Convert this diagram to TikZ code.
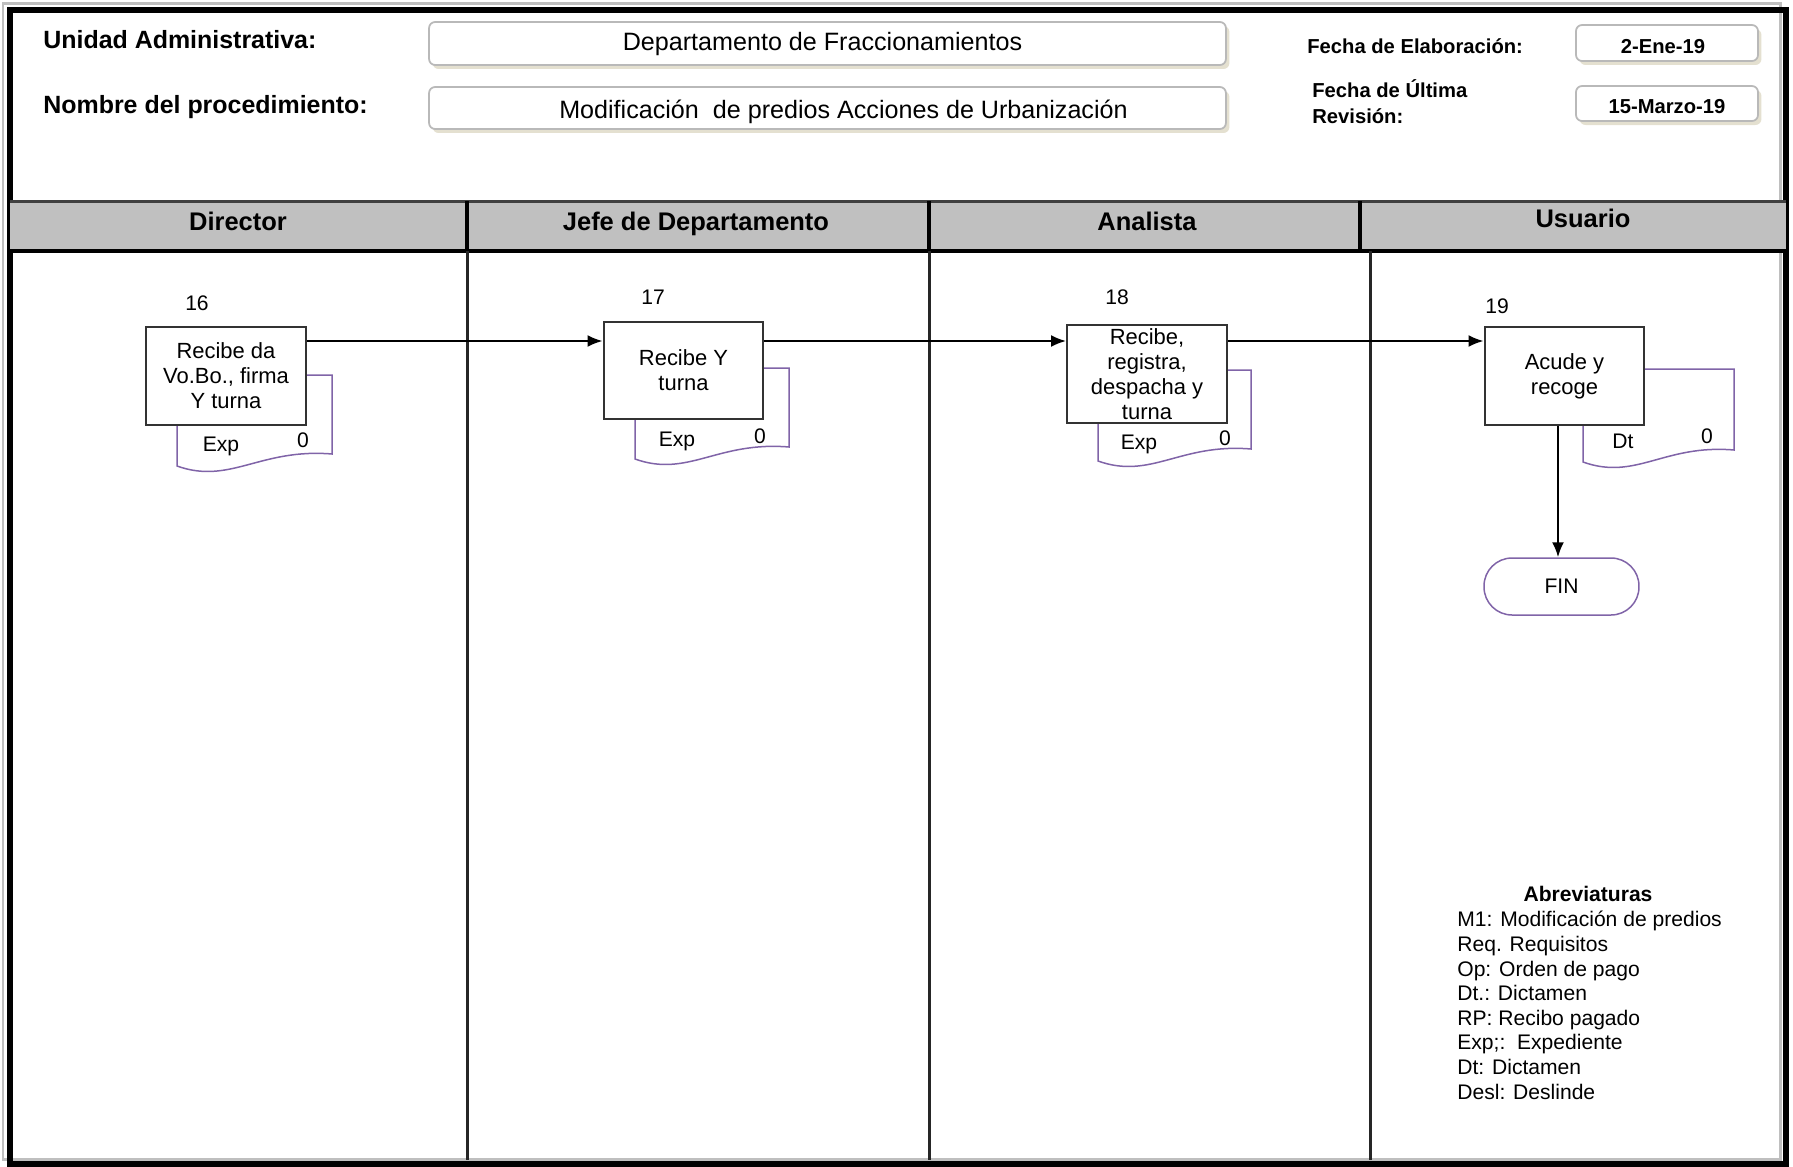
\documentclass[tikz,border=0pt]{standalone}
\usepackage{fontspec}
\setmainfont{Liberation Sans}
\usetikzlibrary{arrows.meta,shadows}
\definecolor{lanegray}{RGB}{192,192,192}
\definecolor{docpurple}{RGB}{128,100,168}
\definecolor{fieldline}{RGB}{185,185,185}
\definecolor{fieldshadow}{RGB}{228,224,208}

\begin{document}
\begin{tikzpicture}[x=0.02cm, y=-0.02cm, every node/.style={inner sep=0pt},
    headtext/.style={font=\bfseries\fontsize{14.2}{17}\selectfont, anchor=west},
    datetext/.style={font=\bfseries\fontsize{11.5}{14.8}\selectfont, anchor=west, align=left},
    field/.style={draw=fieldline, line width=0.035cm, fill=white, rounded corners=0.12cm,
        text depth=0.22em,
        drop shadow={shadow xshift=0.07cm, shadow yshift=-0.08cm, fill=fieldshadow, opacity=1}},
    datefield/.style={field, minimum width=3.64cm, text height=11.7pt, text depth=0pt,
        font=\bfseries\fontsize{11.5}{14}\selectfont},
    lane/.style={font=\bfseries\fontsize{14.5}{17}\selectfont, anchor=base},
    task/.style={draw=black!80, line width=0.04cm, fill=white, minimum width=3.2cm,
        minimum height=1.96cm, align=center, font=\fontsize{12.5}{14.2}\selectfont},
    num/.style={font=\fontsize{12}{14}\selectfont},
    doc/.style={draw=docpurple, line width=0.03cm, fill=white},
    doctext/.style={font=\fontsize{12}{14}\selectfont},
    flow/.style={line width=0.04cm, -{Latex[length=0.3cm,width=0.24cm]}}]
    \useasboundingbox (0,0) rectangle (1793,1167);

    % outer frame
    \draw[gray!50, line width=0.06cm] (3,3) rectangle (1780,1159);
    \draw[line width=0.13cm] (10,10) rectangle (1786,1164);

    % heading of the form
    \node (unidad) [headtext] at (43,40) {Unidad Administrativa:};
    \node (nombre) [headtext] at (43,107) {Nombre del procedimiento:};
    \node (unidadf) [field, minimum width=15.94cm, minimum height=0.86cm, text height=10.5pt, font=\fontsize{14.3}{17}\selectfont] at (827.5,43.5) {Departamento de Fraccionamientos\hspace*{0.2cm}};
    \node (nombref) [field, minimum width=15.94cm, minimum height=0.84cm, text height=14pt, font=\fontsize{14.3}{17}\selectfont] at (827.5,108) {\hspace*{0.64cm}Modificación\ \ de predios Acciones de Urbanización};
    \node (felab) [datetext] at (1307,46) {Fecha de Elaboración:};
    \node (frev) [datetext] at (1312,102) {Fecha de Última\\Revisión:};
    \node (felabf) [datefield, minimum height=0.72cm] at (1667,43) {\hspace*{-0.16cm}2-Ene-19};
    \node (frevf) [datefield, minimum height=0.70cm] at (1667,103.5) {15-Marzo-19};

    % lanes
    \fill[lanegray] (10,201) rectangle (1786,251);
    \draw[black!75, line width=0.06cm] (10,201) -- (1786,201);
    \draw[line width=0.07cm] (10,251) -- (1786,251);
    \draw[line width=0.07cm] (467,201) -- (467,251) (929,201) -- (929,251) (1360,201) -- (1360,251);
    \draw[black!85, line width=0.06cm] (467,251) -- (467,1160) (929,251) -- (929,1160) (1370,251) -- (1370,1160);
    \node (ldir) [lane] at (238,230) {Director};
    \node (ljefe) [lane] at (696,230) {Jefe de Departamento};
    \node (lana) [lane] at (1147,230) {Analista};
    \node (lusu) [lane] at (1583,227) {Usuario};

    % documents
    \draw[doc] (177,375) -- (332,375) -- (332,454) .. controls (260,448) and (230,485) .. (177,466) -- cycle;
    \draw[doc] (635,368) -- (789,368) -- (789,447) .. controls (717,441) and (688,478) .. (635,459) -- cycle;
    \draw[doc] (1098,370) -- (1251,370) -- (1251,449) .. controls (1180,443) and (1151,480) .. (1098,461) -- cycle;
    \draw[doc] (1583,369) -- (1734,369) -- (1734,450) .. controls (1664,444) and (1636,481) .. (1583,462) -- cycle;
    \node (e16) [doctext] at (221,446) {Exp};
    \node (z16) [doctext] at (303,440) {0};
    \node (e17) [doctext] at (677,441) {Exp};
    \node (z17) [doctext] at (760,436) {0};
    \node (e18) [doctext] at (1139,444) {Exp};
    \node (z18) [doctext] at (1225,438) {0};
    \node (e19) [doctext] at (1623,441) {Dt};
    \node (z19) [doctext] at (1707,436) {0};

    % steps
    \node (b16) [task] at (226,376) {Recibe da\\Vo.Bo., firma\\Y turna};
    \node (b17) [task] at (683.5,370.5) {Recibe Y\\turna};
    \node (b18) [task] at (1147,374) {Recibe,\\registra,\\despacha y\\turna};
    \node (b19) [task] at (1564.5,376) {Acude y\\recoge};
    \node (n16) [num] at (197,303) {16};
    \node (n17) [num] at (653,297) {17};
    \node (n18) [num] at (1117,297) {18};
    \node (n19) [num] at (1497,306) {19};
    \node (fin) [draw=docpurple, line width=0.03cm, rounded corners=0.56cm, minimum width=3.1cm, minimum height=1.14cm, font=\fontsize{12}{14}\selectfont] at (1561.5,586.5) {FIN};

    \coordinate (lvl) at (0,341);
    \coordinate (drop) at (1558,0);
    \draw[flow] (b16.east |- lvl) -- (b17.west |- lvl);
    \draw[flow] (b17.east |- lvl) -- (b18.west |- lvl);
    \draw[flow] (b18.east |- lvl) -- (b19.west |- lvl);
    \draw[flow] (b19.south -| drop) -- (fin.north -| drop);

    % abbreviations
    \node (abrev) [font=\bfseries\fontsize{12}{14}\selectfont] at (1588,894) {Abreviaturas};
    \node (abrlist) [anchor=north west, align=left, font=\fontsize{12}{14}\selectfont] at (1457,911) {M1: Modificación de predios\\Req. Requisitos\\Op: Orden de pago\\Dt.: Dictamen\\RP: Recibo pagado\\Exp;:\ \ Expediente\\Dt: Dictamen\\Desl: Deslinde};
\end{tikzpicture}
\end{document}
